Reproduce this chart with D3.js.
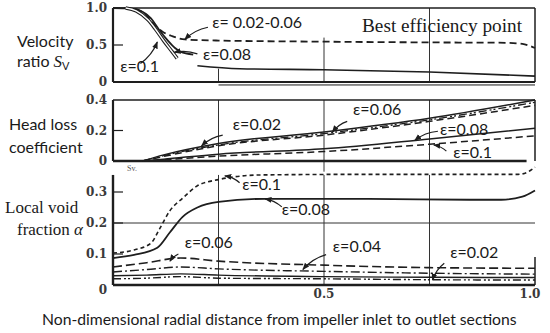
<!DOCTYPE html>
<html>
<head>
<meta charset="utf-8">
<script src="https://cdn.jsdelivr.net/npm/d3@7/dist/d3.min.js"></script>
<style>
  body { margin: 0; background: #fff; }
  text { fill: #1a1a1a; }
  .tick-label { font-family: "DejaVu Serif", serif; font-weight: bold; font-size: 12px; fill: #3a3a3a; }
  .sans { font-family: Lato, "Open Sans", sans-serif; }
  .serif { font-family: "Liberation Serif", serif; }
</style>
</head>
<body>
<svg id="chart" width="550" height="333"></svg>
<script>
// ---- data ----
var xTicks = [0.5, 1.0];
var xTickLabels = ["0.5", "1.0"];

var vrTicks = [0, 0.5, 1.0];
var vrTickLabels = ["0", "0.5", "1.0"];
var hlTicks = [0, 0.2, 0.4];
var hlTickLabels = ["0", "0.2", "0.4"];
var vfTicks = [0, 0.1, 0.2, 0.3];
var vfTickLabels = ["0", "0.1", "0.2", "0.3"];

// velocity ratio Sv
var vr_e02_06 = [[0,1],[0.04,0.995],[0.07,0.95],[0.1,0.76],[0.12,0.67],[0.14,0.62],[0.17,0.575],[0.25,0.56],[0.5,0.545],[0.75,0.535],[0.93,0.53],[0.97,0.515],[1.0,0.46]];
var vr_e08 = [[0,1],[0.04,0.995],[0.07,0.95],[0.09,0.86],[0.11,0.70],[0.13,0.56],[0.147,0.46],[0.16,0.41],[0.19,0.37]];
var vr_e08tail = [[0.2,0.22],[0.3,0.18],[0.5,0.165],[0.75,0.135],[1.0,0.08]];
var vr_e1 = [[0.03,1],[0.055,0.96],[0.083,0.84],[0.1,0.72],[0.12,0.56],[0.14,0.41],[0.152,0.32]];

// head loss coefficient
var hl_e02 = [[0.07,0],[0.12,0.03],[0.25,0.10],[0.5,0.17],[0.75,0.26],[1.0,0.365]];
var hl_e04 = [[0.07,0],[0.12,0.035],[0.25,0.105],[0.5,0.18],[0.75,0.27],[1.0,0.385]];
var hl_e06 = [[0.07,0],[0.12,0.04],[0.25,0.115],[0.5,0.19],[0.75,0.28],[1.0,0.40]];
var hl_e08 = [[0.07,0],[0.12,0.012],[0.25,0.045],[0.5,0.08],[0.75,0.145],[1.0,0.215]];
var hl_e1 = [[0.07,0],[0.12,0.008],[0.25,0.032],[0.5,0.062],[0.75,0.11],[1.0,0.165]];
var hl_base = [[0,0],[0.98,0]];

// local void fraction alpha
var vf_e1 = [[0,0.103],[0.05,0.113],[0.09,0.135],[0.11,0.18],[0.135,0.24],[0.165,0.28],[0.2,0.32],[0.25,0.34],[0.35,0.355],[0.6,0.357],[0.96,0.357],[0.99,0.37],[1.0,0.38]];
var vf_e08 = [[0,0.087],[0.05,0.097],[0.105,0.12],[0.135,0.17],[0.165,0.22],[0.2,0.25],[0.25,0.268],[0.36,0.278],[0.6,0.278],[0.85,0.275],[0.92,0.275],[0.97,0.285],[1.0,0.305]];
var vf_e06 = [[0,0.058],[0.08,0.072],[0.16,0.087],[0.25,0.077],[0.5,0.064],[0.75,0.056],[1.0,0.054]];
var vf_e04 = [[0,0.042],[0.08,0.05],[0.16,0.058],[0.25,0.052],[0.5,0.044],[0.75,0.038],[1.0,0.035]];
var vf_e03 = [[0,0.03],[0.08,0.032],[0.16,0.036],[0.25,0.032],[0.5,0.027],[0.75,0.025],[1.0,0.024]];
var vf_e02 = [[0,0.02],[0.08,0.022],[0.16,0.027],[0.25,0.022],[0.5,0.02],[0.75,0.017],[1.0,0.016]];

// ---- layout ----
var svg = d3.select("#chart");
svg.append("rect").attr("width", 550).attr("height", 333).attr("fill", "#fff");

var x = d3.scaleLinear().domain([0, 1]).range([113, 535]);

var panels = [
  { id: "vr", y: d3.scaleLinear().domain([0, 1]).range([82, 8]), top: 1.0, ticks: vrTicks, labels: vrTickLabels },
  { id: "hl", y: d3.scaleLinear().domain([0, 0.4]).range([161, 100]), top: 0.4, ticks: hlTicks, labels: hlTickLabels },
  { id: "vf", y: d3.scaleLinear().domain([0, 0.1]).range([285, 254]), top: 0.355, ticks: vfTicks, labels: vfTickLabels }
];
var P = {};
panels.forEach(function(p) { P[p.id] = p; });

var ink = "#1e1e1e";
var dash = { solid: null, dashed: "7,4", longdash: "9,4", short: "4,3", dashdot: "9,3,2,3", dashdotdot: "8,3,2,2,2,3" };

// gridlines [panel, x, y0, y1]
var grids = [
  ["vr", 0.25, 0, 0.18], ["vr", 0.5, 0, 0.6], ["vr", 0.75, 0, 1.0],
  ["hl", 0.25, 0, 0.4], ["hl", 0.5, -0.07, 0.4], ["hl", 0.75, 0, 0.4],
  ["vf", 0.25, 0, 0.355], ["vf", 0.5, 0, 0.355], ["vf", 0.75, 0, 0.355]
];
var g = svg.append("g");
grids.forEach(function(d) {
  var y = P[d[0]].y;
  g.append("line").attr("x1", x(d[1])).attr("x2", x(d[1]))
    .attr("y1", y(d[2])).attr("y2", y(d[3]))
    .attr("stroke", "#333").attr("stroke-width", 1);
});
// horizontal gridline at 0.2 in void fraction panel
g.append("line").attr("x1", x(0)).attr("x2", x(1)).attr("y1", P.vf.y(0.2)).attr("y2", P.vf.y(0.2))
  .attr("stroke", "#333").attr("stroke-width", 1);

// frames
function hline(p, v, x0, x1, w) {
  g.append("line").attr("x1", x(x0)).attr("x2", x(x1)).attr("y1", p.y(v)).attr("y2", p.y(v))
    .attr("stroke", ink).attr("stroke-width", w);
}
function vline(p, xv, v0, v1, w) {
  g.append("line").attr("x1", x(xv)).attr("x2", x(xv)).attr("y1", p.y(v0)).attr("y2", p.y(v1))
    .attr("stroke", ink).attr("stroke-width", w);
}
hline(P.vr, 1.0, 0, 1, 1.5); hline(P.vr, 0, 0, 1, 2); hline(P.vr, -0.04, 0.25, 1, 1);
vline(P.vr, 0, 0, 1.0, 2.2); vline(P.vr, 1, 0, 1.0, 1.5);
hline(P.hl, 0.4, 0, 1, 1.5); vline(P.hl, 0, 0, 0.4, 2.2); vline(P.hl, 1, 0, 0.4, 1.5);
vline(P.vf, 0, 0, 0.355, 2.4); hline(P.vf, 0, 0, 1, 2.4); vline(P.vf, 1, 0, 0.09, 1.5);

// y tick marks and labels
panels.forEach(function(p) {
  p.ticks.forEach(function(t, i) {
    if (t > 0 && t < p.top) {
      g.append("line").attr("x1", x(0)).attr("x2", x(0) + 10).attr("y1", p.y(t)).attr("y2", p.y(t))
        .attr("stroke", ink).attr("stroke-width", 1.2);
    }
    g.append("text").attr("class", "tick-label")
      .attr("x", 107).attr("y", p.y(t) + (p.id === "vf" && t === 0 ? 9 : 4))
      .attr("text-anchor", "end").text(p.labels[i]);
  });
});
// x tick labels
xTicks.forEach(function(t, i) {
  g.append("text").attr("class", "tick-label")
    .attr("x", x(t) - (t === 1 ? 5 : 0)).attr("y", 298).attr("text-anchor", "middle").text(xTickLabels[i]);
});

// ---- curves ----
var series = [
  ["vr", vr_e02_06, "dashed", 1.8], ["vr", vr_e08, "solid", 1.8], ["vr", vr_e08tail, "solid", 1.6],
  ["hl", hl_base, "solid", 2.4],
  ["hl", hl_e02, "dashed", 1.5], ["hl", hl_e04, "dashdotdot", 1.3], ["hl", hl_e06, "solid", 1.5],
  ["hl", hl_e08, "solid", 1.5], ["hl", hl_e1, "dashed", 1.5],
  ["vf", vf_e1, "short", 1.6], ["vf", vf_e08, "solid", 1.8], ["vf", vf_e06, "longdash", 1.6],
  ["vf", vf_e04, "dashdot", 1.4], ["vf", vf_e03, "solid", 1.4], ["vf", vf_e02, "dashdotdot", 1.4]
];
var curves = svg.append("g");
series.forEach(function(s) {
  var y = P[s[0]].y;
  var line = d3.line().x(function(d) { return x(d[0]); }).y(function(d) { return y(d[1]); })
    .curve(d3.curveMonotoneX);
  curves.append("path").attr("d", line(s[1])).attr("fill", "none")
    .attr("stroke", ink).attr("stroke-width", s[3])
    .attr("stroke-dasharray", dash[s[2]]);
});
// eps = 0.1 in velocity panel: a double thin line
var l1 = d3.line().x(function(d) { return x(d[0]); }).y(function(d) { return P.vr.y(d[1]); }).curve(d3.curveMonotoneX);
curves.append("path").attr("d", l1(vr_e1)).attr("fill", "none").attr("stroke", ink).attr("stroke-width", 3.6);
curves.append("path").attr("d", l1(vr_e1)).attr("fill", "none").attr("stroke", "#fff").attr("stroke-width", 1.4);

// ---- annotations ----
var defs = svg.append("defs");
defs.append("marker").attr("id", "ah").attr("viewBox", "0 0 10 10").attr("refX", 9).attr("refY", 5)
  .attr("markerWidth", 6).attr("markerHeight", 6).attr("orient", "auto")
  .append("path").attr("d", "M0,1 L10,5 L0,9 Z").attr("fill", ink);

// [panel, from x, from y, to x, to y]
var arrows = [
  ["vr", 0.225, 0.74, 0.17, 0.575], ["vr", 0.2, 0.38, 0.145, 0.40], ["vr", 0.065, 0.25, 0.105, 0.54],
  ["hl", 0.26, 0.17, 0.21, 0.10], ["hl", 0.555, 0.26, 0.52, 0.19],
  ["hl", 0.77, 0.195, 0.715, 0.135], ["hl", 0.79, 0.065, 0.76, 0.105],
  ["vf", 0.3, 0.33, 0.265, 0.352], ["vf", 0.4, 0.252, 0.36, 0.278], ["vf", 0.155, 0.1, 0.135, 0.077],
  ["vf", 0.505, 0.098, 0.45, 0.05], ["vf", 0.785, 0.07, 0.757, 0.016]
];
arrows.forEach(function(a) {
  var y = P[a[0]].y;
  var x0 = x(a[1]), y0 = y(a[2]), x1 = x(a[3]), y1 = y(a[4]);
  var mx = (x0 + x1) / 2 - (y1 - y0) * 0.15, my = (y0 + y1) / 2 + (x1 - x0) * 0.15;
  svg.append("path").attr("d", "M" + x0 + "," + y0 + " Q" + mx + "," + my + " " + x1 + "," + y1)
    .attr("fill", "none").attr("stroke", ink).attr("stroke-width", 1.2).attr("marker-end", "url(#ah)");
});

// [panel, x, y, text]
var notes = [
  ["vr", 0.235, 0.73, "ε= 0.02-0.06"], ["vr", 0.213, 0.30, "ε=0.08"], ["vr", 0.017, 0.135, "ε=0.1"],
  ["hl", 0.284, 0.203, "ε=0.02"], ["hl", 0.569, 0.30, "ε=0.06"], ["hl", 0.775, 0.17, "ε=0.08"], ["hl", 0.806, 0.02, "ε=0.1"],
  ["vf", 0.306, 0.306, "ε=0.1"], ["vf", 0.40, 0.226, "ε=0.08"], ["vf", 0.17, 0.119, "ε=0.06"],
  ["vf", 0.521, 0.106, "ε=0.04"], ["vf", 0.799, 0.087, "ε=0.02"]
];
notes.forEach(function(n) {
  svg.append("text").attr("class", "sans").attr("x", x(n[1])).attr("y", P[n[0]].y(n[2]))
    .style("font-size", "16px").text(n[3]);
});

function fit(sel, w) {
  var len = sel.node().getComputedTextLength();
  var fs = parseFloat(sel.style("font-size"));
  sel.style("font-size", (fs * w / len).toFixed(2) + "px");
}

fit(svg.append("text").attr("class", "serif").attr("x", 362).attr("y", 32)
  .style("font-size", "16px").text("Best efficiency point"), 160);

// small Sv mark under head loss panel
svg.append("text").attr("class", "serif").attr("x", 127).attr("y", 171)
  .style("font-size", "8px").style("fill", "#555").text("Sv.");

// left titles
svg.append("text").attr("class", "sans").attr("x", 17).attr("y", 47).style("font-size", "16px").text("Velocity");
var t2 = svg.append("text").attr("class", "sans").attr("x", 17).attr("y", 67).style("font-size", "16px");
t2.append("tspan").text("ratio ");
t2.append("tspan").attr("class", "serif").style("font-style", "italic").style("font-size", "17px").text("S");
t2.append("tspan").attr("dy", 3).style("font-size", "11px").text("V");

svg.append("text").attr("class", "sans").attr("x", 9).attr("y", 130).style("font-size", "16px").text("Head loss");
svg.append("text").attr("class", "sans").attr("x", 9).attr("y", 153).style("font-size", "16px").text("coefficient");

svg.append("text").attr("class", "serif").attr("x", 5).attr("y", 213).style("font-size", "17px").text("Local void");
var t3 = svg.append("text").attr("class", "serif").attr("x", 17).attr("y", 235).style("font-size", "17px");
t3.append("tspan").text("fraction ");
t3.append("tspan").style("font-style", "italic").text("α");

// x axis title
fit(svg.append("text").attr("class", "sans").attr("x", 42).attr("y", 325)
  .style("font-size", "14px").text("Non-dimensional radial distance from impeller inlet to outlet sections"), 475);
</script>
</body>
</html>
